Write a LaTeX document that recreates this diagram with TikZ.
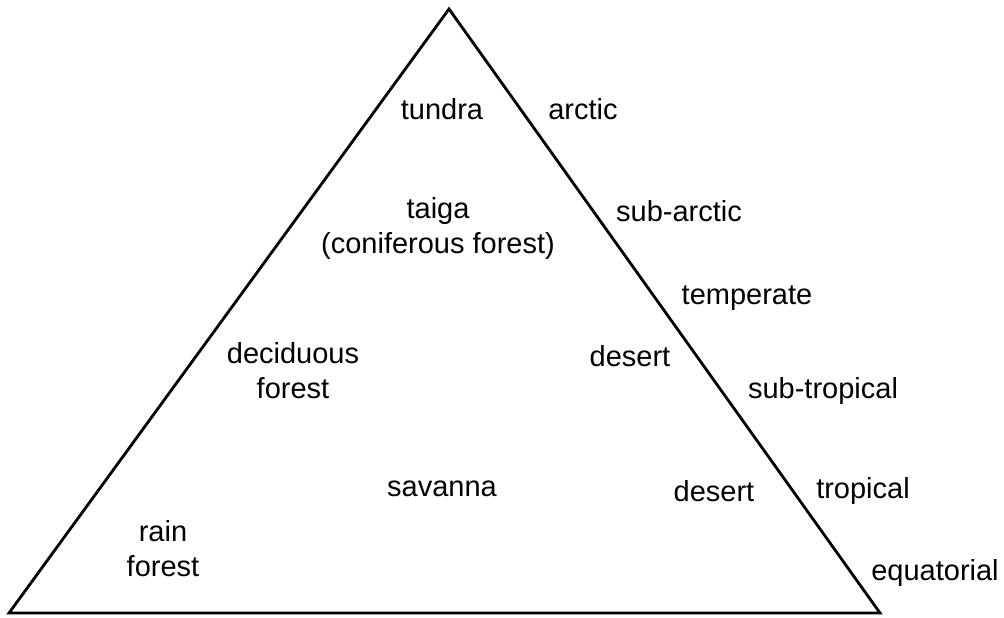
\documentclass[tikz,border=0pt]{standalone}
\usepackage{fontspec}
\setmainfont{Liberation Sans}
\usetikzlibrary{positioning}

\tikzset{
  biome/.style={align=center, font=\fontsize{14.5}{17.5}\selectfont},
  zone/.style={biome}
}

\begin{document}
\begin{tikzpicture}[x=0.5pt, y=-0.5pt]
  \useasboundingbox (0,0) rectangle (1004,617);
  % the pyramid
  \coordinate (left) at (9,613);
  \coordinate (right) at (880,613);
  \coordinate (apex) at (449,9);
  \draw[line width=1.4pt, line join=miter] (left) -- (apex) -- (right) -- cycle;

  % biomes inside
  \node[biome] (tundra) at (442,109) {tundra};
  \node[biome] (taiga) at (438,228) {taiga\\(coniferous forest)};
  \node[biome] (deciduous) at (293,371) {deciduous\\forest};
  \node[biome] (desertA) at (630,356) {desert};
  \node[biome] (savanna) at (442,489) {savanna};
  \node[biome] (desertB) at (714,491) {desert};
  \node[biome] (rain) at (163,549) {rain\\forest};

  % climate zones outside
  \node[zone] (arctic) at (583,109) {arctic};
  \node[zone] (subarctic) at (679,211) {sub-arctic};
  \node[zone] (temperate) at (747,298) {temperate};
  \node[zone] (subtropical) at (823,391) {sub-tropical};
  \node[zone] (tropical) at (863,491) {tropical};
  \node[zone] (equatorial) at (935,573) {equatorial};
\end{tikzpicture}
\end{document}
